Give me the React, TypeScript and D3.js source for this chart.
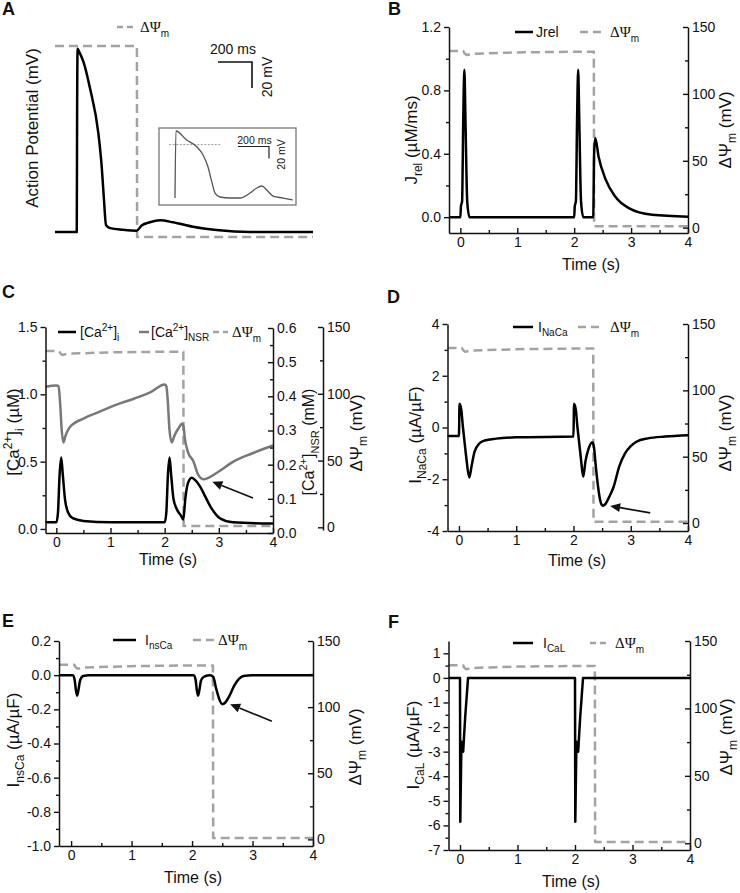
import React, {useRef, useEffect} from 'react';
import * as d3 from 'd3';

const SANS = 'Arial, "Liberation Sans", Helvetica, sans-serif';
const SERIF = '"Liberation Serif", "Times New Roman", serif';
const DASH_COLOR = '#a3a3a3';
const NSR_COLOR = '#787878';
const DASH = '9 5';

// ---- panel A: action potential, time in ms, voltage in mV ----
const apTime = [0, 128, 130, 133, 137, 167, 206, 255, 275, 288, 300, 324, 400, 480, 510, 558, 618, 694, 812, 950, 1147, 1518];
const apVolt = [-88, -88, 0, 53, 52, 43, 22.5, -12, -38, -63, -82.6, -85, -86.3, -87, -83, -80.5, -79, -80.5, -84, -86.5, -88, -88];
const apDpsiTime = [0, 482, 483, 1518];
const apDpsi = [132, 132, 1, 1];
// inset trace
const insetTime = [0, 6, 75, 140, 181, 213, 237, 258, 290, 355, 419, 484, 527, 560, 592, 632, 697, 759];
const insetVolt = [-85, 26.7, 11.7, 0.5, -13.3, -33.3, -57.8, -76.7, -83.3, -85, -85, -76.7, -68.3, -65, -71.7, -81.7, -85, -88.3];
const insetRefTime = [-37, 302];
const insetRefVolt = [4, 4];

// ---- shared ΔΨm trace (B-F), time in s, mV ----
const dpsiTime = [-0.2, 0.05, 0.08, 0.11, 0.2, 1.0, 2.0, 2.345, 2.35, 4.0];
const dpsiVal = [132, 132, 130, 129, 130, 131, 131.5, 131.5, 1, 1];

// ---- panel B: Jrel (µM/ms) ----
const jrelTime = [-0.2, 0, 0.01, 0.03, 0.05, 0.07, 0.09, 0.12, 0.16, 2.0, 2.01, 2.03, 2.05, 2.07, 2.09, 2.12, 2.16, 2.335, 2.35, 2.37, 2.43, 2.55, 2.72, 2.96, 3.37, 4.0];
const jrelVal = [0, 0, 0.07, 0.1, 0.6, 0.93, 0.6, 0.1, 0, 0, 0.07, 0.1, 0.6, 0.93, 0.6, 0.1, 0, 0, 0.4, 0.5, 0.38, 0.24, 0.13, 0.057, 0.015, 0.003];

// ---- panel C: [Ca2+]i (µM) and [Ca2+]NSR (mM) ----
const caiTime = [-0.2, 0, 0.03, 0.06, 0.09, 0.12, 0.16, 0.22, 0.3, 0.5, 1.0, 2.0, 2.03, 2.06, 2.09, 2.12, 2.16, 2.22, 2.3, 2.345, 2.38, 2.43, 2.5, 2.57, 2.66, 2.75, 2.84, 3.02, 3.26, 4.0];
const caiVal = [0.05, 0.05, 0.12, 0.4, 0.53, 0.4, 0.22, 0.12, 0.08, 0.06, 0.05, 0.05, 0.12, 0.4, 0.53, 0.4, 0.23, 0.15, 0.1, 0.07, 0.22, 0.34, 0.38, 0.36, 0.31, 0.24, 0.17, 0.08, 0.05, 0.04];
const nsrTime = [-0.2, 0.0, 0.04, 0.07, 0.1, 0.13, 0.17, 0.25, 0.5, 0.8, 1.1, 1.43, 1.75, 2.0, 2.03, 2.06, 2.09, 2.13, 2.18, 2.25, 2.32, 2.35, 2.37, 2.43, 2.53, 2.62, 2.72, 2.85, 3.0, 3.26, 3.6, 4.0];
const nsrVal = [0.428, 0.432, 0.43, 0.38, 0.3, 0.265, 0.285, 0.31, 0.335, 0.355, 0.375, 0.393, 0.413, 0.435, 0.43, 0.38, 0.3, 0.265, 0.285, 0.305, 0.32, 0.31, 0.28, 0.237, 0.21, 0.17, 0.157, 0.165, 0.18, 0.208, 0.232, 0.256];

// ---- panel D: INaCa (µA/µF) ----
const ncxTime = [-0.2, 0, 0.01, 0.04, 0.07, 0.1, 0.13, 0.18, 0.22, 0.27, 0.36, 0.45, 0.65, 1.0, 2.0, 2.01, 2.04, 2.07, 2.1, 2.13, 2.17, 2.21, 2.26, 2.33, 2.36, 2.39, 2.43, 2.47, 2.51, 2.56, 2.62, 2.7, 2.8, 2.9, 3.0, 3.1, 3.3, 3.6, 4.0];
const ncxVal = [-0.33, -0.33, 0.92, 0.7, 0.0, -0.6, -1.2, -1.93, -1.5, -0.95, -0.61, -0.5, -0.43, -0.38, -0.35, 0.92, 0.7, 0.0, -0.6, -1.2, -1.9, -1.3, -0.85, -0.57, -0.8, -1.5, -2.3, -2.85, -3.02, -2.95, -2.7, -2.3, -1.5, -1.0, -0.72, -0.55, -0.42, -0.35, -0.3];

// ---- panel E: InsCa (µA/µF) ----
const nscaTime = [-0.2, 0.03, 0.06, 0.08, 0.1, 0.12, 0.15, 0.2, 0.3, 2.03, 2.06, 2.08, 2.1, 2.12, 2.15, 2.2, 2.3, 2.35, 2.4, 2.45, 2.5, 2.55, 2.62, 2.7, 2.78, 2.85, 3.0, 4.0];
const nscaVal = [0, 0, -0.03, -0.09, -0.12, -0.09, -0.03, -0.005, 0, 0, -0.03, -0.09, -0.12, -0.09, -0.03, -0.008, 0, -0.01, -0.08, -0.14, -0.17, -0.16, -0.12, -0.06, -0.02, -0.005, 0, 0];

// ---- panel F: ICaL (µA/µF) ----
const calTime = [-0.2, 0, 0.005, 0.025, 0.055, 0.09, 0.14, 2.0, 2.005, 2.025, 2.055, 2.09, 2.14, 4.0];
const calVal = [0, 0, -5.85, -2.6, -3.0, -1.6, 0, 0, -5.85, -2.6, -3.0, -1.6, 0, 0];

// ---- ticks ----
const timeTicks = [0, 1, 2, 3, 4];
const timeMinor = [0.5, 1.5, 2.5, 3.5];
const dpsiTicks = [0, 50, 100, 150];
const dpsiMinor = [25, 75, 125];

type Part = {s: string; k?: 'sub' | 'sup'; serif?: boolean};
type Sel = d3.Selection<any, unknown, null, undefined>;

const DPSI_TITLE: Part[] = [{s: 'ΔΨ'}, {s: 'm', k: 'sub'}, {s: ' (mV)'}];
const DPSI_LEG: Part[] = [{s: 'ΔΨ', serif: true}, {s: 'm', k: 'sub'}];

function richText(parent: Sel, x: number, y: number, parts: Part[], size: number, anchor = 'start', rotate = false) {
    const t = parent.append('text')
        .attr('transform', `translate(${x},${y})${rotate ? ' rotate(-90)' : ''}`)
        .attr('text-anchor', anchor)
        .style('font-size', `${size}px`)
        .style('font-family', SANS)
        .attr('fill', '#111');
    let shift = 0;
    parts.forEach(p => {
        const target = p.k === 'sub' ? size * 0.3 : p.k === 'sup' ? -size * 0.42 : 0;
        t.append('tspan')
            .attr('dy', target - shift)
            .style('font-size', p.k ? `${Math.round(size * 0.68)}px` : null)
            .style('font-family', p.serif ? SERIF : null)
            .text(p.s);
        shift = target;
    });
    return t;
}

function styleAxis(g: Sel) {
    g.attr('font-size', null).attr('font-family', null);
    g.select('.domain').attr('stroke-width', 1.5).attr('stroke', '#111');
    g.selectAll('.tick line').attr('stroke-width', 1.4).attr('stroke', '#111');
    g.selectAll('.tick text').style('font-size', '14px').style('font-family', SANS).attr('fill', '#111');
}

function leftAxis(svg: Sel, y: d3.ScaleLinear<number, number>, x0: number, major: number[], minor: number[], fmt: (d: number) => string) {
    const g = svg.append('g').attr('transform', `translate(${x0},0)`);
    g.call(d3.axisLeft(y).tickValues(major).tickSize(5).tickSizeOuter(0).tickPadding(3).tickFormat(d => fmt(+d)));
    styleAxis(g);
    const m = svg.append('g').attr('transform', `translate(${x0},0)`);
    m.call(d3.axisLeft(y).tickValues(minor).tickSize(3).tickSizeOuter(0).tickFormat(() => ''));
    m.select('.domain').remove();
    styleAxis(m);
}

function rightAxis(svg: Sel, y: d3.ScaleLinear<number, number>, x0: number, major: number[], minor: number[], fmt: (d: number) => string) {
    const g = svg.append('g').attr('transform', `translate(${x0},0)`);
    g.call(d3.axisRight(y).tickValues(major).tickSizeInner(-5).tickSizeOuter(0).tickPadding(4).tickFormat(d => fmt(+d)));
    styleAxis(g);
    const m = svg.append('g').attr('transform', `translate(${x0},0)`);
    m.call(d3.axisRight(y).tickValues(minor).tickSizeInner(-3).tickSizeOuter(0).tickFormat(() => ''));
    m.select('.domain').remove();
    styleAxis(m);
}

function bottomAxis(svg: Sel, x: d3.ScaleLinear<number, number>, y0: number) {
    const g = svg.append('g').attr('transform', `translate(0,${y0})`);
    g.call(d3.axisBottom(x).tickValues(timeTicks).tickSizeInner(-5).tickSizeOuter(0).tickPadding(4).tickFormat(d => String(d)));
    styleAxis(g);
    const m = svg.append('g').attr('transform', `translate(0,${y0})`);
    m.call(d3.axisBottom(x).tickValues(timeMinor).tickSizeInner(-3).tickSizeOuter(0).tickFormat(() => ''));
    m.select('.domain').remove();
    styleAxis(m);
}

function trace(svg: Sel, x: (n: number) => number, y: (n: number) => number, t: number[], v: number[],
               color: string, width: number, dash: string | null = null, curve: d3.CurveFactory = d3.curveMonotoneX) {
    const line = d3.line<number>().x((_, i) => x(t[i])).y(d => y(d)).curve(curve);
    svg.append('path')
        .attr('d', line(v) || '')
        .attr('fill', 'none')
        .attr('stroke', color)
        .attr('stroke-width', width)
        .attr('stroke-linejoin', 'round')
        .attr('stroke-dasharray', dash);
}

function arrow(svg: Sel, x1: number, y1: number, x2: number, y2: number) {
    const a = Math.atan2(y2 - y1, x2 - x1);
    const L = 10, w = 4.5;
    const bx = x2 - L * Math.cos(a), by = y2 - L * Math.sin(a);
    svg.append('line').attr('x1', x1).attr('y1', y1).attr('x2', bx).attr('y2', by)
        .attr('stroke', '#111').attr('stroke-width', 1.6);
    svg.append('polygon')
        .attr('points', [
            [x2, y2],
            [bx + w * Math.sin(a), by - w * Math.cos(a)],
            [bx - w * Math.sin(a), by + w * Math.cos(a)],
        ].map(p => p.join(',')).join(' '))
        .attr('fill', '#111');
}

function legendLine(svg: Sel, x1: number, x2: number, y: number, color: string, dash: string | null = null) {
    svg.append('line').attr('x1', x1).attr('x2', x2).attr('y1', y).attr('y2', y)
        .attr('stroke', color).attr('stroke-width', 2.5).attr('stroke-dasharray', dash);
}

function panelLetter(svg: Sel, x: number, y: number, s: string) {
    svg.append('text').attr('x', x).attr('y', y).text(s)
        .style('font-size', '18px').style('font-weight', 'bold').style('font-family', SANS).attr('fill', '#111');
}

function timeTitle(svg: Sel, x: number, y: number) {
    svg.append('text').attr('x', x).attr('y', y).attr('text-anchor', 'middle').text('Time (s)')
        .style('font-size', '16px').style('font-family', SANS).attr('fill', '#111');
}

function drawA(svg: Sel) {
    panelLetter(svg, 2, 15, 'A');
    const x = d3.scaleLinear().domain([0, 1518]).range([55, 313]);
    const y = d3.scaleLinear().domain([-88, 53.5]).range([232, 48]);
    const yd = d3.scaleLinear().domain([1, 132]).range([237, 46]);

    trace(svg, x, yd, apDpsiTime, apDpsi, DASH_COLOR, 2.5, DASH, d3.curveLinear);
    trace(svg, x, y, apTime, apVolt, '#000', 2.5);

    richText(svg, 38, 128, [{s: 'Action Potential (mV)'}], 17, 'middle', true);
    legendLine(svg, 117, 134, 27, DASH_COLOR, '6 4');
    richText(svg, 140, 32, DPSI_LEG, 15);

    // scale bar 200 ms / 20 mV
    const sx = 252, sy = 62;
    const barW = x(200) - x(0);
    const barH = y(0) - y(20);
    svg.append('path').attr('d', `M${sx - barW},${sy}H${sx}V${sy + barH}`)
        .attr('fill', 'none').attr('stroke', '#111').attr('stroke-width', 1.6);
    svg.append('text').attr('x', sx - barW / 2 - 2).attr('y', sy - 8).attr('text-anchor', 'middle').text('200 ms')
        .style('font-size', '14px').style('font-family', SANS).attr('fill', '#111');
    richText(svg, 272, sy + barH / 2 + 2, [{s: '20 mV'}], 14, 'middle', true);

    // inset
    svg.append('rect').attr('x', 159).attr('y', 128).attr('width', 137).attr('height', 77)
        .attr('fill', 'none').attr('stroke', '#777').attr('stroke-width', 1.3);
    const xi = d3.scaleLinear().domain([0, 759]).range([175, 292.7]);
    const yi = d3.scaleLinear().domain([-88.3, 26.7]).range([200, 131]);
    trace(svg, xi, yi, insetRefTime, insetRefVolt, '#999', 1, '2 1.5', d3.curveLinear);
    trace(svg, xi, yi, insetTime, insetVolt, '#555', 1.3);
    const ix = 269, iy = 146.5;
    const iw = xi(200) - xi(0), ih = yi(0) - yi(20);
    svg.append('path').attr('d', `M${ix - iw},${iy}H${ix}V${iy + ih}`)
        .attr('fill', 'none').attr('stroke', '#222').attr('stroke-width', 1.2);
    svg.append('text').attr('x', ix - iw / 2 + 1).attr('y', iy - 3).attr('text-anchor', 'middle').text('200 ms')
        .style('font-size', '10.5px').style('font-family', SANS).attr('fill', '#222');
    richText(svg, 285, iy + 8, [{s: '20 mV'}], 10.5, 'middle', true);
}

function drawB(svg: Sel) {
    panelLetter(svg, 388, 15, 'B');
    const x = d3.scaleLinear().domain([-0.2, 4]).range([449, 688]);
    const y = d3.scaleLinear().domain([-0.1, 1.2]).range([233, 27]);
    const yr = d3.scaleLinear().domain([-4, 150]).range([233, 27]);

    trace(svg, x, yr, dpsiTime, dpsiVal, DASH_COLOR, 2.5, DASH, d3.curveLinear);
    trace(svg, x, y, jrelTime, jrelVal, '#000', 2.5);

    leftAxis(svg, y, 449, [0, 0.4, 0.8, 1.2], [0.2, 0.6, 1.0], d => d.toFixed(1));
    rightAxis(svg, yr, 688, dpsiTicks, dpsiMinor, d => String(d));
    bottomAxis(svg, x, 233);

    richText(svg, 417, 140, [{s: 'J'}, {s: 'rel', k: 'sub'}, {s: ' (µM/ms)'}], 17, 'middle', true);
    richText(svg, 731, 130, DPSI_TITLE, 17, 'middle', true);
    timeTitle(svg, 591, 270);

    legendLine(svg, 515, 533, 32, '#000');
    richText(svg, 536, 37, [{s: 'Jrel'}], 14);
    legendLine(svg, 580, 601, 32, DASH_COLOR, '8 5');
    richText(svg, 610, 37, DPSI_LEG, 15);
}

function drawC(svg: Sel) {
    panelLetter(svg, 2, 298, 'C');
    const x = d3.scaleLinear().domain([-0.2, 4]).range([45.5, 273]);
    const y = d3.scaleLinear().domain([-0.03, 1.5]).range([533, 327]);
    const yn = d3.scaleLinear().domain([0, 0.6]).range([533, 328]);
    const yr = d3.scaleLinear().domain([-2, 150]).range([530, 327]);

    trace(svg, x, yr, dpsiTime, dpsiVal, DASH_COLOR, 2.5, DASH, d3.curveLinear);
    trace(svg, x, yn, nsrTime, nsrVal, NSR_COLOR, 2.5);
    trace(svg, x, y, caiTime, caiVal, '#000', 2.5);

    leftAxis(svg, y, 45.5, [0, 0.5, 1.0, 1.5], [0.25, 0.75, 1.25], d => d.toFixed(1));
    rightAxis(svg, yn, 273, [0, 0.1, 0.2, 0.3, 0.4, 0.5, 0.6], [0.05, 0.15, 0.25, 0.35, 0.45, 0.55], d => d.toFixed(1));
    rightAxis(svg, yr, 323, dpsiTicks, dpsiMinor, d => String(d));
    bottomAxis(svg, x, 533);

    richText(svg, 19, 432, [{s: '[Ca'}, {s: '2+', k: 'sup'}, {s: ']'}, {s: 'i', k: 'sub'}, {s: ' (µM)'}], 17, 'middle', true);
    richText(svg, 314, 442, [{s: '[Ca'}, {s: '2+', k: 'sup'}, {s: ']'}, {s: 'NSR', k: 'sub'}, {s: ' (mM)'}], 16, 'middle', true);
    richText(svg, 362, 433, DPSI_TITLE, 17, 'middle', true);
    timeTitle(svg, 168, 565);

    legendLine(svg, 58, 76, 332, '#000');
    richText(svg, 80, 337, [{s: '[Ca'}, {s: '2+', k: 'sup'}, {s: ']'}, {s: 'i', k: 'sub'}], 14);
    legendLine(svg, 139, 149, 332, NSR_COLOR);
    richText(svg, 151, 337, [{s: '[Ca'}, {s: '2+', k: 'sup'}, {s: ']'}, {s: 'NSR', k: 'sub'}], 14);
    legendLine(svg, 213, 228, 332, DASH_COLOR, '6 4');
    richText(svg, 232, 337, DPSI_LEG, 15);

    arrow(svg, x(3.63), y(0.23), x(2.88), y(0.35));
}

function drawD(svg: Sel) {
    panelLetter(svg, 387, 303, 'D');
    const x = d3.scaleLinear().domain([-0.2, 4]).range([447.5, 688]);
    const y = d3.scaleLinear().domain([-4, 4]).range([531, 324]);
    const yr = d3.scaleLinear().domain([-6, 150]).range([531, 324]);

    trace(svg, x, yr, dpsiTime, dpsiVal, DASH_COLOR, 2.5, DASH, d3.curveLinear);
    trace(svg, x, y, ncxTime, ncxVal, '#000', 2.5);

    leftAxis(svg, y, 447.5, [-4, -2, 0, 2, 4], [-3, -1, 1, 3], d => String(d));
    rightAxis(svg, yr, 688, dpsiTicks, dpsiMinor, d => String(d));
    bottomAxis(svg, x, 531);

    richText(svg, 421, 435, [{s: 'I'}, {s: 'NaCa', k: 'sub'}, {s: ' (µA/µF)'}], 17, 'middle', true);
    richText(svg, 731, 433, DPSI_TITLE, 17, 'middle', true);
    timeTitle(svg, 577, 566);

    legendLine(svg, 513, 533, 327, '#000');
    richText(svg, 538, 332, [{s: 'I'}, {s: 'NaCa', k: 'sub'}], 14);
    legendLine(svg, 578, 601, 327, DASH_COLOR, '8 5');
    richText(svg, 610, 332, DPSI_LEG, 15);

    arrow(svg, x(3.34), y(-3.3), x(2.64), y(-3.03));
}

function drawE(svg: Sel) {
    panelLetter(svg, 2, 627, 'E');
    const x = d3.scaleLinear().domain([-0.2, 4]).range([59, 313]);
    const y = d3.scaleLinear().domain([-1, 0.2]).range([846, 641]);
    const yr = d3.scaleLinear().domain([-5, 150]).range([846, 641]);

    trace(svg, x, yr, dpsiTime, dpsiVal, DASH_COLOR, 2.5, DASH, d3.curveLinear);
    trace(svg, x, y, nscaTime, nscaVal, '#000', 2.5);

    leftAxis(svg, y, 59, [-1, -0.8, -0.6, -0.4, -0.2, 0, 0.2], [-0.9, -0.7, -0.5, -0.3, -0.1, 0.1], d => d.toFixed(1));
    rightAxis(svg, yr, 313, dpsiTicks, dpsiMinor, d => String(d));
    bottomAxis(svg, x, 846);

    richText(svg, 19, 740, [{s: 'I'}, {s: 'nsCa', k: 'sub'}, {s: ' (µA/µF)'}], 17, 'middle', true);
    richText(svg, 361, 747, DPSI_TITLE, 17, 'middle', true);
    timeTitle(svg, 193, 883);

    legendLine(svg, 113, 136, 640, '#000');
    richText(svg, 145, 645, [{s: 'I'}, {s: 'nsCa', k: 'sub'}], 14);
    legendLine(svg, 193, 214, 640, DASH_COLOR, '8 5');
    richText(svg, 218, 645, DPSI_LEG, 15);

    arrow(svg, x(3.32), y(-0.27), x(2.63), y(-0.17));
}

function drawF(svg: Sel) {
    panelLetter(svg, 388, 628, 'F');
    const x = d3.scaleLinear().domain([-0.2, 4]).range([448.5, 690]);
    const y = d3.scaleLinear().domain([-7, 1.5]).range([850, 641]);
    const yr = d3.scaleLinear().domain([-5, 150]).range([850, 641]);

    trace(svg, x, yr, dpsiTime, dpsiVal, DASH_COLOR, 2.5, DASH, d3.curveLinear);
    trace(svg, x, y, calTime, calVal, '#000', 2.5, null, d3.curveLinear);

    leftAxis(svg, y, 448.5, [-7, -6, -5, -4, -3, -2, -1, 0, 1], [-6.5, -5.5, -4.5, -3.5, -2.5, -1.5, -0.5, 0.5], d => String(d));
    rightAxis(svg, yr, 690, dpsiTicks, dpsiMinor, d => String(d));
    bottomAxis(svg, x, 850);

    richText(svg, 419, 745, [{s: 'I'}, {s: 'CaL', k: 'sub'}, {s: ' (µA/µF)'}], 17, 'middle', true);
    richText(svg, 732, 737, DPSI_TITLE, 17, 'middle', true);
    timeTitle(svg, 571, 887);

    legendLine(svg, 513, 533, 643, '#000');
    richText(svg, 543, 648, [{s: 'I'}, {s: 'CaL', k: 'sub'}], 14);
    legendLine(svg, 590, 607, 643, DASH_COLOR, '6 4');
    richText(svg, 615, 648, DPSI_LEG, 15);
}

const App: React.FC = () => {
    const svgRef = useRef<SVGSVGElement>(null);

    useEffect(() => {
        if (!svgRef.current) return;
        const svg = d3.select(svgRef.current) as unknown as Sel;
        svg.selectAll('*').remove();
        svg.append('rect').attr('width', 740).attr('height', 893).attr('fill', '#fff');
        drawA(svg);
        drawB(svg);
        drawC(svg);
        drawD(svg);
        drawE(svg);
        drawF(svg);
    }, []);

    return (
        <svg
            ref={svgRef}
            width={740}
            height={893}
            viewBox="0 0 740 893"
            style={{position: 'absolute', left: 0, top: 0}}
        />
    );
};

export default App;
